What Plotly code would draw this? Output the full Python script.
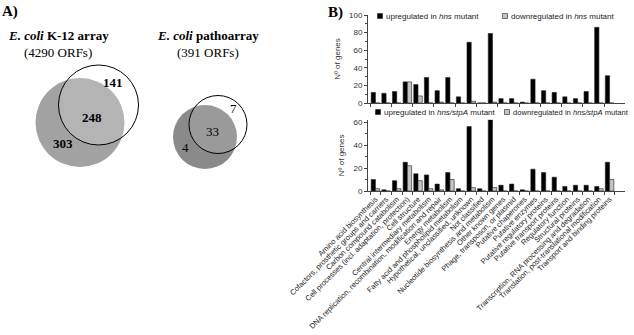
import plotly.graph_objects as go

# ---------------- data ----------------
categories = [
    "Amino acid biosynthesis",
    "Cofactors, prosthetic groups and carriers",
    "Carbon compound catabolism",
    "Cell processes (incl. adaptation, protection)",
    "Cell structure",
    "Central intermediary metabolism",
    "DNA replication, recombination, modification and repair",
    "Energy metabolism",
    "Fatty acid and phospholipid metabolism",
    "Hypothetical, unclassified, unknown",
    "Not classified",
    "Nucleotide biosynthesis and metabolism",
    "Other known genes",
    "Phage, transposon, or plasmid",
    "Putative chaperones",
    "Putative enzymes",
    "Putative regulatory proteins",
    "Putative transport proteins",
    "Regulatory function",
    "Structural proteins",
    "Transcription, RNA processing and degradation",
    "Translation, post-translational modification",
    "Transport and binding proteins",
]
up_hns = [12, 11, 13, 24, 21, 29, 14, 29, 7, 69, 0, 79, 5, 5, 1, 27, 14, 12, 7, 5, 13, 86, 31]
down_hns = [0, 0, 0, 24, 8, 0, 1, 0, 0, 2, 0, 1, 0, 0, 0, 0, 0, 0, 0, 0, 0, 0, 0]
up_hns_stpa = [10, 1, 9, 25, 15, 14, 6, 16, 2, 56, 2, 62, 5, 6, 1, 19, 16, 12, 4, 5, 5, 4, 25]
down_hns_stpa = [2, 0, 2, 22, 9, 2, 1, 10, 0, 3, 0, 3, 0, 0, 0, 0, 0, 0, 0, 0, 0, 2, 10]
top_ticks = [0, 20, 40, 60, 80, 100]
bottom_ticks = [0, 20, 40, 60]
legend_top = ["upregulated in <i>hns</i> mutant", "downregulated in <i>hns</i> mutant"]
legend_bottom = ["upregulated in <i>hns/stpA</i> mutant", "downregulated in <i>hns/stpA</i> mutant"]

# Venn counts
k12_only_hns, k12_both, k12_only_stpa = 303, 248, 141
patho_only_hns, patho_both, patho_only_stpa = 4, 33, 7

W, H = 634, 335
FONT = "Liberation Sans"
SERIF = "Liberation Serif"
UP_COLOR = "black"
DOWN_COLOR = "#c4c4c4"

def py(p):  # pixel y -> paper y
    return (H - p) / H

fig = go.Figure()

series = [
    (up_hns, legend_top[0], UP_COLOR, "x", "y"),
    (down_hns, legend_top[1], DOWN_COLOR, "x", "y"),
    (up_hns_stpa, legend_bottom[0], UP_COLOR, "x2", "y2"),
    (down_hns_stpa, legend_bottom[1], DOWN_COLOR, "x2", "y2"),
]
for vals, name, col, xa, ya in series:
    fig.add_trace(go.Bar(x=categories, y=vals, name=name, showlegend=False,
                         marker=dict(color=col, line=dict(color="#222", width=0.6)),
                         xaxis=xa, yaxis=ya))

xdom = [368 / W, 625 / W]
xrange = [-0.7, len(categories) - 1 + 1.45]
axis_common = dict(showline=True, linecolor="#444", linewidth=1, ticks="outside",
                   tickcolor="#444", ticklen=3, showgrid=False, zeroline=False,
                   automargin=False,
                   tickfont=dict(family=FONT, size=8, color="#333"))
ytitle = dict(text="Nº of genes", font=dict(family=FONT, size=8, color="#333"), standoff=7)

fig.update_layout(
    width=W, height=H,
    margin=dict(l=0, r=0, t=0, b=0, autoexpand=False),
    paper_bgcolor="white", plot_bgcolor="rgba(0,0,0,0)",
    barmode="group", bargap=0.2, bargroupgap=0,
    showlegend=False,
    font=dict(family=FONT, size=8, color="#222"),
    xaxis=dict(domain=xdom, anchor="y", type="category", categoryorder="array",
               categoryarray=categories, showticklabels=False, tickson="boundaries",
               range=xrange, **axis_common),
    yaxis=dict(domain=[py(103), py(15)], anchor="x", range=[0, 100], tickvals=top_ticks,
               minor=dict(ticks="outside", dtick=10, ticklen=2, tickcolor="#444"),
               title=ytitle, **axis_common),
    xaxis2=dict(domain=xdom, anchor="y2", type="category", categoryorder="array",
                categoryarray=categories, tickangle=-45, tickson="boundaries",
                tickmode="array", tickvals=categories, ticktext=categories,
                range=xrange,
                **{**axis_common, "tickfont": dict(family=FONT, size=7.5, color="#222")}),
    yaxis2=dict(domain=[py(191), py(119.7)], anchor="x2", range=[0, 62], tickvals=bottom_ticks,
                minor=dict(ticks="outside", dtick=10, ticklen=2, tickcolor="#444"),
                title=ytitle, **axis_common),
    xaxis3=dict(domain=[0, 1], anchor="y3", range=[0, W], visible=False, fixedrange=True),
    yaxis3=dict(domain=[0, 1], anchor="x3", range=[H, 0], visible=False, fixedrange=True),
)

# invisible trace to activate the overlay axes (pixel frame) for Venn + legend keys
fig.add_trace(go.Scatter(x=[0], y=[0], xaxis="x3", yaxis="y3", mode="markers",
                         marker=dict(opacity=0), showlegend=False, hoverinfo="skip"))

def circle(cx, cy, r, fill, line_color, lw):
    fig.add_shape(type="circle", xref="x3", yref="y3", x0=cx - r, x1=cx + r,
                  y0=cy - r, y1=cy + r, fillcolor=fill,
                  line=dict(color=line_color, width=lw), layer="above")

def text(x, y, s, size=13, family=SERIF, color="black", xanchor="center"):
    fig.add_annotation(x=x, y=y, xref="x3", yref="y3", text=s, showarrow=False,
                       font=dict(family=family, size=size, color=color),
                       xanchor=xanchor, yanchor="middle")

def legend_key(x, y, label, col, size=8):
    fig.add_shape(type="rect", xref="x3", yref="y3", x0=x - 2.5, x1=x + 2.5,
                  y0=y - 2.5, y1=y + 2.5, fillcolor=col,
                  line=dict(color="#222", width=0.6), layer="above")
    fig.add_annotation(x=x + 4, y=y, xref="x3", yref="y3", text=label, showarrow=False,
                       font=dict(family=FONT, size=size, color="#222"),
                       xanchor="left", yanchor="middle")

# legends
legend_key(380, 16, legend_top[0], UP_COLOR)
legend_key(505, 16, legend_top[1], DOWN_COLOR)
legend_key(378, 112, legend_bottom[0], UP_COLOR)
legend_key(507, 112, legend_bottom[1], DOWN_COLOR, size=7.6)

# K-12 Venn
circle(80, 122.5, 44.5, "#a2a2a2", "#a2a2a2", 0)
circle(98.5, 105, 40, "rgba(255,255,255,0.2)", "black", 1)
# pathoarray Venn
circle(205, 137, 32, "#8a8a8a", "#8a8a8a", 0)
circle(218, 124.5, 29, "rgba(255,255,255,0.14)", "black", 1)

text(10, 11, "<b>A)</b>", size=15)
text(335, 12, "<b>B)</b>", size=15)
text(58, 35, "<b><i>E. coli</i> K-12 array</b>", size=13)
text(58, 52, "(4290 ORFs)", size=13)
text(208, 35, "<b><i>E. coli</i></b> <b>pathoarray</b>", size=13)
text(208, 52, "(391 ORFs)", size=13)
text(113, 82, f"<b>{k12_only_stpa}</b>", size=13)
text(92, 117, f"<b>{k12_both}</b>", size=13)
text(63, 143, f"<b>{k12_only_hns}</b>", size=13)
text(233, 108, f"{patho_only_stpa}", size=13)
text(212, 131, f"{patho_both}", size=13)
text(185, 147, f"{patho_only_hns}", size=13)

fig.write_html("out.html", config={"displayModeBar": False},
               post_script="document.body.style.margin='0';")
